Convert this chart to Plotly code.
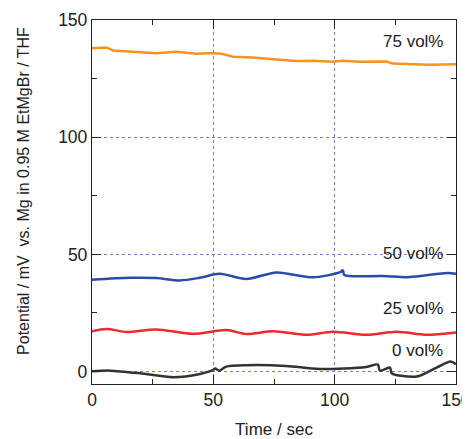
import plotly.graph_objects as go

# 75 vol%
t75 = [0, 5.9, 8.7, 16.9, 26.5, 34.7, 42.9, 49.8, 53.9, 58, 66.2, 75.9, 84.1, 91, 99.2, 103.3, 110.2, 121.2, 124, 139, 150]
v75 = [137.9, 138.3, 137.0, 136.5, 135.8, 136.5, 135.6, 135.9, 135.5, 134.3, 134.0, 133.2, 132.5, 132.6, 132.2, 132.6, 132.2, 132.3, 131.4, 130.9, 131.1]

# 50 vol%
t50 = [0, 15.6, 26.5, 36.1, 44.4, 52.6, 63.6, 76, 91, 102, 103.4, 104, 119.9, 130.7, 146.6, 150]
v50 = [39.2, 40.0, 39.9, 38.9, 40.0, 41.7, 39.5, 42.3, 40.2, 42.3, 43.2, 41.2, 40.8, 40.3, 42.1, 41.7]

# 25 vol%
t25 = [0, 6, 14.3, 26.5, 41.6, 55.4, 63.6, 74.6, 88.4, 99.4, 113.1, 125.5, 137.8, 150]
v25 = [17.2, 18.2, 16.9, 18.0, 16.1, 17.7, 16.0, 17.2, 15.7, 17.0, 15.7, 17.0, 15.7, 16.7]

# 0 vol%
t0 = [0, 7.4, 19.8, 33.5, 44.5, 50, 50.8, 52.5, 55.3, 63.6, 80, 93.8, 113, 117.8, 118.6, 122.8, 123.5, 133.8, 142, 147.8, 150]
v0 = [0.15, 0.4, -0.7, -2.4, -1.0, 0.7, 1.3, 0.4, 2.1, 2.7, 2.4, 1.1, 2.0, 3.0, 0.4, 1.7, -0.7, -2.1, 1.7, 4.3, 3.1]

labels = ["75 vol%", "50 vol%", "25 vol%", "0 vol%"]
label_x = [132.2, 132.2, 132.2, 134.3]
label_y = [140.9, 50.3, 26.8, 9.0]

series = [(t75, v75, "#F7941D", "linear"), (t50, v50, "#2B4BA8", "spline"),
          (t25, v25, "#EE2A2E", "spline"), (t0, v0, "#333333", "spline")]

fig = go.Figure()
for t, v, c, sh in series:
    fig.add_trace(go.Scatter(x=t, y=v, mode="lines",
                             line=dict(color=c, width=2.5, shape=sh, smoothing=0.8 if sh == "spline" else None),
                             showlegend=False))

for txt, x, y in zip(labels, label_x, label_y):
    fig.add_annotation(x=x, y=y, text=txt, showarrow=False, xanchor="center", yanchor="middle",
                       font=dict(size=17, color="#222222"))

axis_common = dict(
    showline=True, linecolor="#222222", linewidth=1.3, mirror="ticks",
    ticks="inside", ticklen=9, tickwidth=1, tickcolor="#222222",
    showgrid=True, gridcolor="#7878d0", griddash="dot", gridwidth=1,
    zeroline=False, automargin=False, ticklabeloverflow="allow",
    tickfont=dict(size=17.5, color="#222222", family="Liberation Sans, Arial, sans-serif"),
    minor=dict(ticks="inside", ticklen=5, tickcolor="#222222", dtick=25, showgrid=False),
)

fig.update_xaxes(range=[0, 150], dtick=50, **axis_common)
fig.update_yaxes(range=[-5.3, 150], dtick=50, **axis_common)
fig.update_xaxes(title=dict(text="Time / sec", font=dict(size=17, color="#222222"), standoff=14))

fig.add_annotation(xref="paper", yref="paper", x=-0.19, y=0.53, text="Potential / mV  vs. Mg in 0.95 M EtMgBr / THF",
                   textangle=-90, showarrow=False, xanchor="center", yanchor="middle",
                   font=dict(size=16, color="#222222"))

# page has an 8px body margin, so the figure is sized/offset to compensate
fig.update_layout(
    width=462, height=431,
    margin=dict(l=84, r=14, t=12, b=55, autoexpand=False),
    plot_bgcolor="white", paper_bgcolor="white",
    font=dict(family="Liberation Sans, Arial, sans-serif", size=17, color="#222222"),
)

fig.write_html("out.html")
